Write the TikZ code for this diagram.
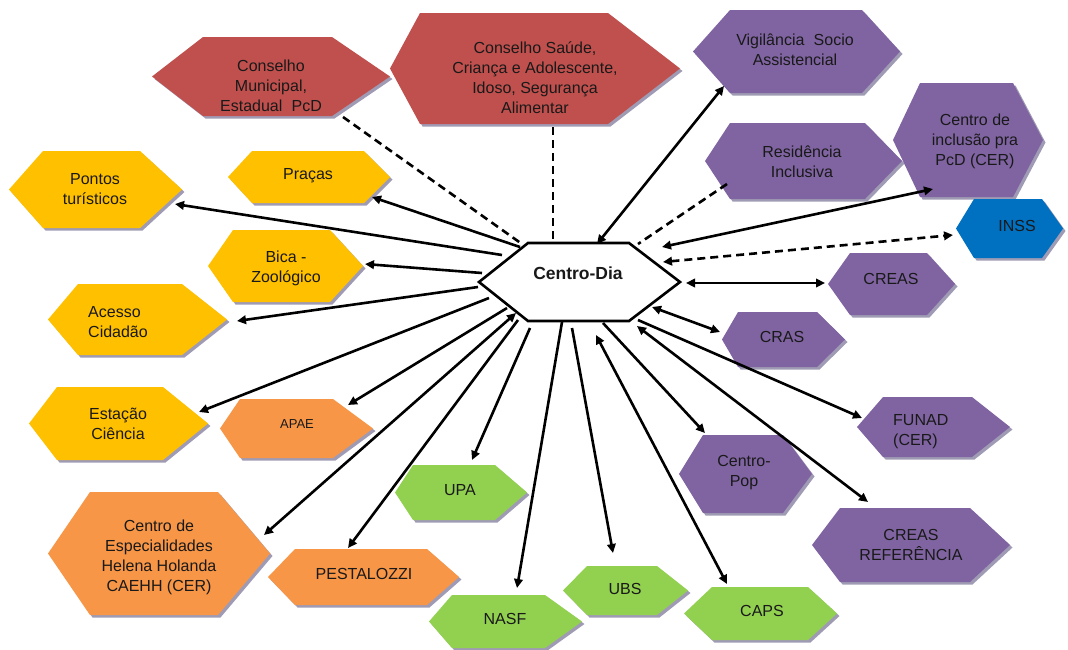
\documentclass[tikz,border=0pt]{standalone}
\usepackage{fontspec}
\setmainfont{Liberation Sans}
\usetikzlibrary{arrows.meta}
\definecolor{cred}{HTML}{C0504D}
\definecolor{cyel}{HTML}{FFC000}
\definecolor{cpur}{HTML}{8064A2}
\definecolor{cblu}{HTML}{0070C0}
\definecolor{cora}{HTML}{F79646}
\definecolor{cgre}{HTML}{92D050}
\definecolor{shadowc}{RGB}{160,155,180}
\definecolor{txt}{RGB}{25,25,25}
\newcommand\hexa[7]{%
  \fill[shadowc,shift={(2.5,2.5)}] (#2,{(#6+#7)/2}) -- (#3,#6) -- (#4,#6) -- (#5,{(#6+#7)/2}) -- (#4,#7) -- (#3,#7) -- cycle;
  \fill[#1] (#2,{(#6+#7)/2}) -- (#3,#6) -- (#4,#6) -- (#5,{(#6+#7)/2}) -- (#4,#7) -- (#3,#7) -- cycle;}
\tikzset{
  lbl/.style={inner sep=0pt, align=center, text=txt, font=\fontsize{16}{20}\selectfont},
  lbll/.style={lbl, align=left},
  conn/.style={line width=2.6pt, draw=black},
  onetip/.style={conn, -{Triangle[length=9pt,width=8.5pt]}},
  twotip/.style={conn, {Triangle[length=9pt,width=8.5pt]}-{Triangle[length=9pt,width=8.5pt]}},
  dashline/.style={conn, dash pattern=on 8pt off 5pt},
  centerhex/.style={fill=white, draw=black, line width=2.6pt, line join=miter}
}
\begin{document}
\begin{tikzpicture}[x=1pt,y=-1pt]
\useasboundingbox (0,0) rectangle (1068,649);
% ---- shapes ----
\hexa{cred}{152}{203}{332}{390}{37}{116}
\hexa{cred}{390}{420}{608}{680}{13}{124}
\hexa{cpur}{693}{730}{862}{900}{10}{93}
\hexa{cpur}{705}{730}{865}{902}{123}{199}
\hexa{cpur}{893}{920}{1013}{1043}{83}{197}
\hexa{cblu}{956}{974}{1042}{1063}{199}{258}
\hexa{cpur}{828}{850}{927}{955}{253}{315}
\hexa{cpur}{722}{738}{817}{845}{312}{367}
\hexa{cpur}{857}{883}{972}{1010}{397}{457}
\hexa{cpur}{679}{703}{783}{812}{435}{513}
\hexa{cpur}{812}{840}{970}{1010}{508}{582}
\hexa{cgre}{684}{712}{808}{837}{587}{640}
\hexa{cgre}{563}{587}{657}{688}{566}{615}
\hexa{cgre}{429}{452}{545}{582}{595}{648}
\hexa{cgre}{395}{413}{495}{527}{465}{520}
\hexa{cora}{268}{295}{427}{459}{549}{605}
\hexa{cora}{48}{90}{218}{270}{492}{615}
\hexa{cora}{220}{240}{333}{373}{399}{458}
\hexa{cyel}{29}{57}{163}{208}{387}{460}
\hexa{cyel}{48}{78}{182}{227}{284}{355}
\hexa{cyel}{208}{233}{330}{363}{230}{302}
\hexa{cyel}{9}{43}{140}{182}{151}{228}
\hexa{cyel}{228}{252}{364}{390}{151}{203}
% ---- labels ----
\node[lbl] (cmun) at (271,86) {Conselho\\Municipal,\\Estadual\hspace{0.3em} PcD};
\node[lbl] (csau) at (535,78) {Conselho Saúde,\\Criança e Adolescente,\\Idoso, Segurança\\Alimentar};
\node[lbl] (vig) at (795,50) {Vigilância\hspace{0.3em} Socio\\Assistencial};
\node[lbl] (res) at (802,162) {Residência\\Inclusiva};
\node[lbl] (cinc) at (975,141) {Centro de\\inclusão pra\\PcD (CER)};
\node[lbl] (inss) at (1017,226) {INSS};
\node[lbl] (creas) at (891,279) {CREAS};
\node[lbl] (cras) at (782,337) {CRAS};
\node[lbll, anchor=west] (funad) at (893,432) {FUNAD\\(CER)};
\node[lbl] (cpop) at (744,473) {Centro-\\Pop};
\node[lbl] (cref) at (911,545) {CREAS\\REFERÊNCIA};
\node[lbl] (caps) at (762,611) {CAPS};
\node[lbl] (ubs) at (625,589) {UBS};
\node[lbl] (nasf) at (505,619) {NASF};
\node[lbl] (upa) at (460,490) {UPA};
\node[lbl] (pest) at (364,574) {PESTALOZZI};
\node[lbl] (ceh) at (159,557) {Centro de\\Especialidades\\Helena Holanda\\CAEHH (CER)};
\node[lbl, font=\fontsize{13}{16}\selectfont] (apae) at (297,424) {APAE};
\node[lbl] (est) at (118,424) {Estação\\Ciência};
\node[lbll, anchor=west] (ace) at (88,322) {Acesso\\Cidadão};
\node[lbl] (bica) at (286,268) {Bica -\\Zoológico};
\node[lbl] (pont) at (95,189) {Pontos\\turísticos};
\node[lbl] (pra) at (308,176) {Praças};
% ---- centre ----
\draw[centerhex] (479,282) -- (528,243) -- (629,243) -- (680,282) -- (629,321) -- (528,321) -- cycle;
\node[inner sep=0pt, text=txt, font=\fontsize{17.5}{20}\selectfont\bfseries] (cd) at (578,273) {Centro-Dia};
% ---- connector ends ----
\coordinate (cmunE) at (343,117);   \coordinate (cdA) at (522,244);
\coordinate (csauE) at (553,127);   \coordinate (cdB) at (553,239);
\coordinate (vigE) at (724,86);     \coordinate (cdC) at (597,244);
\coordinate (resE) at (727,184);    \coordinate (cdD) at (638,244);
\coordinate (cincE) at (933,189);   \coordinate (cdE) at (662,247);
\coordinate (inssE) at (953,235);   \coordinate (cdF) at (663,262);
\coordinate (creasE) at (825,283);  \coordinate (cdG) at (686,283);
\coordinate (crasE) at (720,332);   \coordinate (cdH) at (652,307);
\coordinate (funadE) at (862,418);  \coordinate (cdI) at (638,320);
\coordinate (crefE) at (868,502);   \coordinate (cdJ) at (637,326);
\coordinate (cpopE) at (705,433);   \coordinate (cdK) at (603,323);
\coordinate (capsE) at (727,584);   \coordinate (cdL) at (596,335);
\coordinate (ubsE) at (613,553);    \coordinate (cdM) at (572,328);
\coordinate (nasfE) at (517,588);   \coordinate (cdN) at (562,322);
\coordinate (upaE) at (472,460);    \coordinate (cdO) at (530,328);
\coordinate (pestE) at (348,548);   \coordinate (cdP) at (518,320);
\coordinate (cehE) at (264,535);    \coordinate (cdQ) at (516,313);
\coordinate (apaeE) at (348,405);   \coordinate (cdR) at (507,308);
\coordinate (estE) at (199,412);    \coordinate (cdS) at (489,298);
\coordinate (aceE) at (237,321);    \coordinate (cdT) at (478,287);
\coordinate (bicaE) at (365,264);   \coordinate (cdU) at (482,273);
\coordinate (pontE) at (175,204);   \coordinate (cdV) at (502,255);
\coordinate (praE) at (372,197);    \coordinate (cdW) at (520,247);
% ---- connectors ----
\draw[dashline] (cmunE) -- (cdA);
\draw[dashline] (csauE) -- (cdB);
\draw[twotip] (cdC) -- (vigE);
\draw[dashline] (resE) -- (cdD);
\draw[twotip] (cdE) -- (cincE);
\draw[twotip, dash pattern=on 8pt off 5pt] (cdF) -- (inssE);
\draw[twotip] (cdG) -- (creasE);
\draw[twotip] (cdH) -- (crasE);
\draw[onetip] (cdI) -- (funadE);
\draw[twotip] (cdJ) -- (crefE);
\draw[onetip] (cdK) -- (cpopE);
\draw[twotip] (cdL) -- (capsE);
\draw[onetip] (cdM) -- (ubsE);
\draw[onetip] (cdN) -- (nasfE);
\draw[onetip] (cdO) -- (upaE);
\draw[onetip] (cdP) -- (pestE);
\draw[twotip] (cdQ) -- (cehE);
\draw[onetip] (cdR) -- (apaeE);
\draw[onetip] (cdS) -- (estE);
\draw[onetip] (cdT) -- (aceE);
\draw[onetip] (cdU) -- (bicaE);
\draw[onetip] (cdV) -- (pontE);
\draw[onetip] (cdW) -- (praE);
\end{tikzpicture}
\end{document}
